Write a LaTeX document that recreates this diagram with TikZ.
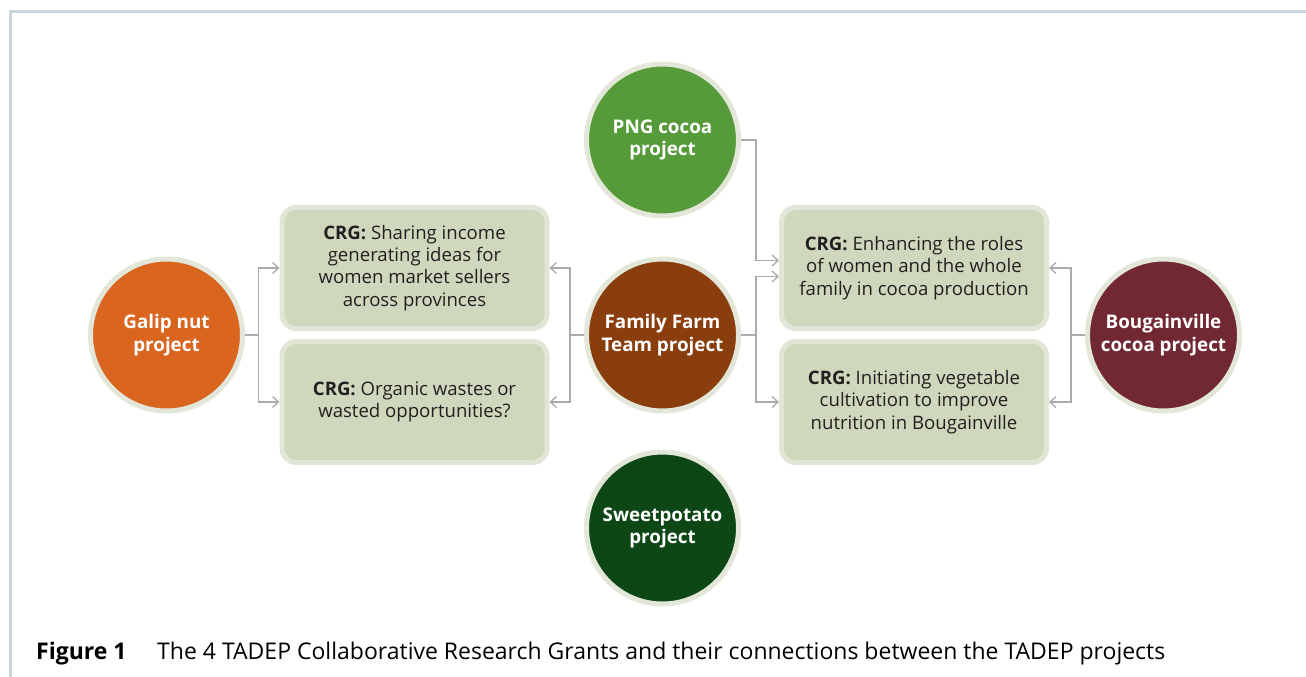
\documentclass[tikz,border=0pt]{standalone}
\usepackage{fontspec}
\setmainfont{Open Sans}
\usetikzlibrary{arrows.meta}

\definecolor{frameblue}{HTML}{C9D7DD}
\definecolor{ringbeige}{HTML}{E3E7D9}
\definecolor{boxfill}{HTML}{CFD8BC}
\definecolor{boxedge}{HTML}{E1E6D6}
\definecolor{linkgray}{HTML}{ABABAB}
\definecolor{inkdark}{HTML}{231F20}
\definecolor{pnggreen}{HTML}{569B3A}
\definecolor{farmbrown}{HTML}{8A3D0D}
\definecolor{potatogreen}{HTML}{0C4715}
\definecolor{galiporange}{HTML}{D9651F}
\definecolor{bougmaroon}{HTML}{722832}

\begin{document}
\begin{tikzpicture}[x=1pt,y=-1pt,
  project/.style={circle, draw=ringbeige, line width=5pt, minimum size=152pt,
    inner sep=0pt, align=center, text=white,
    font=\fontsize{18.8}{22.5}\selectfont\bfseries},
  grant/.style={rectangle, rounded corners=14pt, draw=boxedge, fill=boxfill,
    line width=5pt, minimum width=265pt, minimum height=121pt,
    inner sep=0pt, align=center, text=inkdark,
    font=\fontsize{18.6}{22.3}\selectfont},
  link/.style={draw=linkgray, line width=1.3pt},
  arrowlink/.style={link, -{Straight Barb[length=6pt,width=11pt,line width=1.3pt]}},
  caption/.style={anchor=base west, inner sep=0pt, text=black,
    font=\fontsize{23}{27}\selectfont}]
\useasboundingbox (0,0) rectangle (1306,677);

% frame: top and left rule
\draw[frameblue, line width=3pt] (10.5,677) -- (10.5,11.5) -- (1306,11.5);

% project circles
\node[project, fill=galiporange] (galip) at (166.5,335) {Galip nut\\project};
\node[project, fill=pnggreen] (png) at (662.5,140) {PNG cocoa\\project};
\node[project, fill=farmbrown] (farm) at (662.5,335) {Family Farm\\Team project};
\node[project, fill=potatogreen] (potato) at (662.5,528) {Sweetpotato\\project};
\node[project, fill=bougmaroon] (boug) at (1163.5,335) {Bougainville\\cocoa project};

% collaborative research grants
\node[grant] (crgA) at (414.5,268) {\textbf{CRG:} Sharing income\\generating ideas for\\women market sellers\\across provinces};
\node[grant] (crgB) at (414.5,402) {\textbf{CRG:} Organic wastes or\\wasted opportunities?};
\node[grant] (crgC) at (914,268) {\textbf{CRG:} Enhancing the roles\\of women and the whole\\family in cocoa production};
\node[grant] (crgD) at (914,402) {\textbf{CRG:} Initiating vegetable\\cultivation to improve\\nutrition in Bougainville};

% junction columns
\coordinate (jL) at (258.5,0);
\coordinate (jM) at (570,0);
\coordinate (jR) at (756,0);
\coordinate (jB) at (1071,0);

% Galip nut project links
\draw[link] (galip.east) -- (galip.east -| jL);
\draw[arrowlink] (galip.east -| jL) |- (crgA.west);
\draw[arrowlink] (galip.east -| jL) |- (crgB.west);

% Family Farm Team project links
\draw[link] (farm.west) -- (farm.west -| jM);
\draw[arrowlink] (farm.west -| jM) |- (crgA.east);
\draw[arrowlink] (farm.west -| jM) |- (crgB.east);
\draw[link] (farm.east) -- (farm.east -| jR);
\draw[arrowlink] (farm.east -| jR) |- ([yshift=-8.5pt]crgC.west);
\draw[arrowlink] (farm.east -| jR) |- (crgD.west);

% PNG cocoa project link
\draw[arrowlink] (png.east) -- (png.east -| jR) |- ([yshift=7.5pt]crgC.west);

% Bougainville cocoa project links
\draw[link] (boug.west) -- (boug.west -| jB);
\draw[arrowlink] (boug.west -| jB) |- (crgC.east);
\draw[arrowlink] (boug.west -| jB) |- (crgD.east);

% caption
\node[caption] (figlabel) at (36,659) {\textbf{Figure 1}};
\node[caption] (figtext) at (157,659) {The 4 TADEP Collaborative Research Grants and their connections between the TADEP projects};
\end{tikzpicture}
\end{document}
